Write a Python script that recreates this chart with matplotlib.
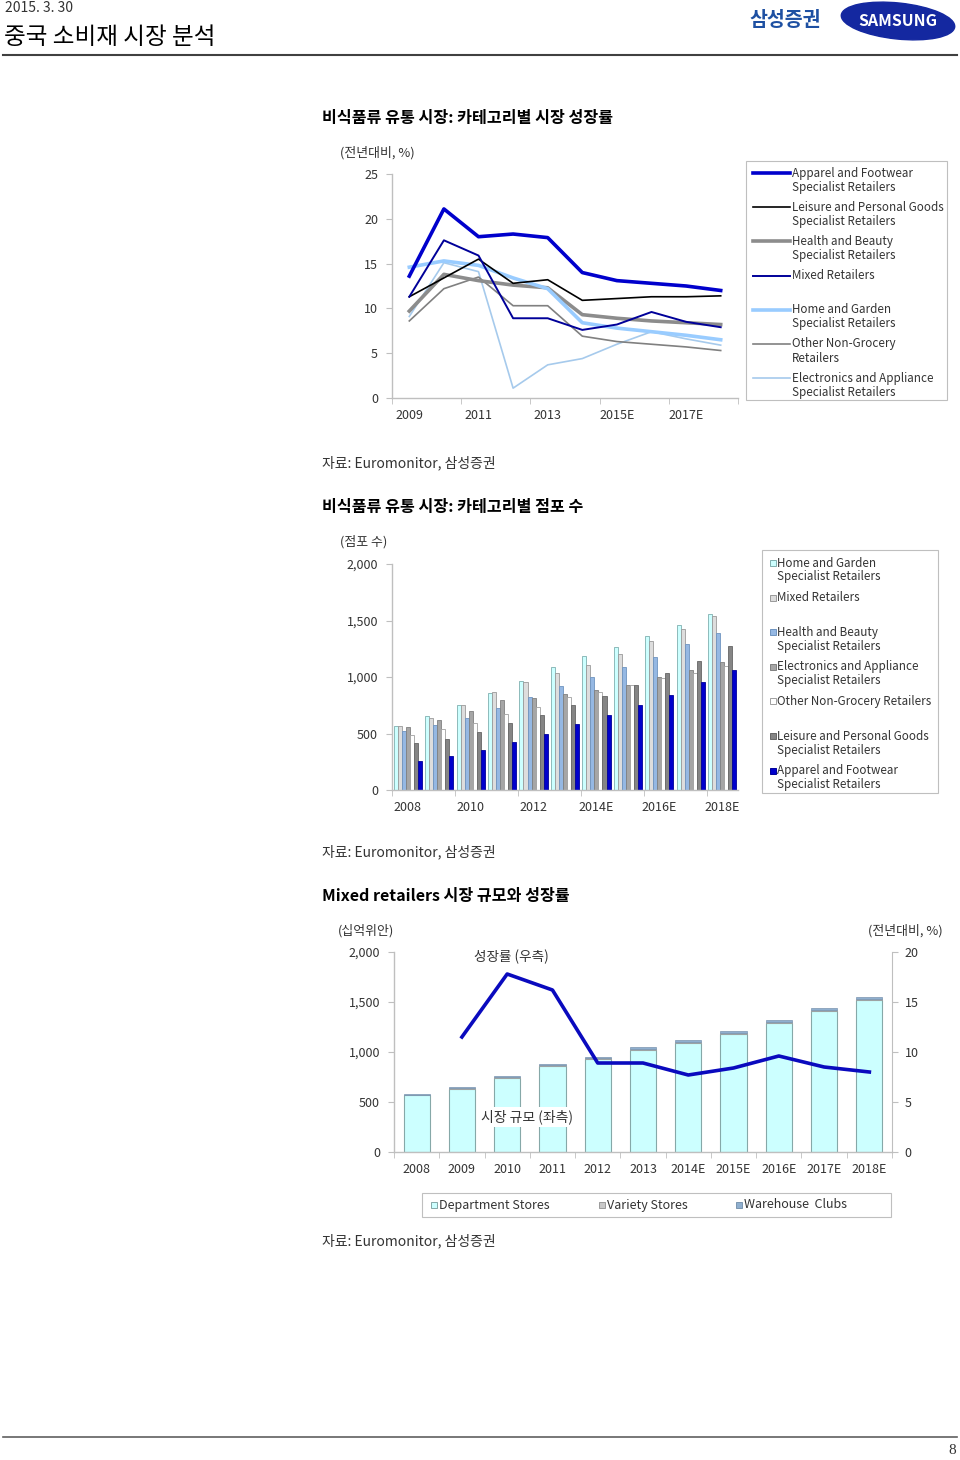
import matplotlib
matplotlib.use("Agg")
import matplotlib.pyplot as plt
import numpy as np
from matplotlib.patches import Ellipse, Rectangle
from matplotlib.ticker import FuncFormatter

plt.rcParams['font.family'] = ['Noto Sans CJK KR', 'DejaVu Sans']

W, H = 960, 1460

# ---- chart 1: growth by category (%)
years1 = ['2009', '2010', '2011', '2012', '2013', '2014E', '2015E', '2016E', '2017E', '2018E']
apparel_g = [13.6, 21.1, 18.0, 18.3, 17.9, 14.0, 13.1, 12.8, 12.5, 12.0]
leisure_g = [11.3, 13.4, 15.5, 12.8, 13.2, 10.9, 11.1, 11.3, 11.3, 11.4]
health_g = [9.7, 13.8, 13.1, 12.6, 12.3, 9.3, 8.9, 8.6, 8.4, 8.2]
mixed_g = [11.3, 17.6, 15.9, 8.9, 8.9, 7.6, 8.2, 9.6, 8.5, 7.9]
home_g = [14.6, 15.3, 14.8, 13.4, 12.2, 8.4, 7.8, 7.4, 7.0, 6.5]
other_g = [8.6, 12.2, 13.5, 10.3, 10.3, 6.9, 6.3, 6.0, 5.7, 5.3]
electro_g = [9.1, 15.1, 14.1, 1.1, 3.7, 4.4, 6.0, 7.4, 6.6, 5.9]

# ---- chart 2: number of stores
years2 = ['2008', '2009', '2010', '2011', '2012', '2013', '2014E', '2015E', '2016E', '2017E', '2018E']
home_s = [568, 656, 750, 859, 968, 1088, 1182, 1268, 1365, 1459, 1556]
mixed_s = [568, 641, 750, 871, 959, 1038, 1109, 1206, 1315, 1421, 1541]
health_s = [521, 571, 641, 726, 824, 918, 1003, 1085, 1179, 1288, 1385]
electro_s = [559, 618, 703, 800, 812, 847, 882, 929, 1000, 1062, 1132]
other_s = [488, 538, 594, 676, 738, 824, 871, 929, 991, 1038, 1100]
leisure_s = [415, 453, 509, 594, 668, 750, 835, 929, 1038, 1144, 1276]
apparel_s = [259, 297, 356, 426, 500, 582, 668, 750, 844, 956, 1062]

# ---- chart 3: mixed retailers market size and growth
dept_store = [569, 635, 740, 864, 929, 1025, 1093, 1184, 1289, 1407, 1517]
variety_store = [6, 6, 7, 7, 8, 8, 9, 9, 10, 10, 11]
warehouse_club = [8, 9, 10, 12, 13, 14, 15, 17, 18, 20, 22]
mixed_growth = [np.nan, 11.5, 17.8, 16.2, 8.9, 8.9, 7.7, 8.4, 9.6, 8.5, 8.0]

AXC = '#BFBFBF'
TXT = '#333333'


def px_axes(fig, left, top, right, bottom):
    return fig.add_axes([left / W, 1 - bottom / H, (right - left) / W, (bottom - top) / H])


def ftext(fig, x, y, s, **kw):
    kw.setdefault('va', 'center')
    return fig.text(x / W, 1 - y / H, s, **kw)


def style_axes(ax):
    for sp in ['top', 'right']:
        ax.spines[sp].set_visible(False)
    for sp in ax.spines.values():
        sp.set_color(AXC)
        sp.set_linewidth(1.0)
    ax.tick_params(axis='y', length=4, color=AXC, labelsize=9, labelcolor=TXT, pad=6)


def cat_ticks(ax, labels, step, n):
    ax.set_xlim(-0.5, n - 0.5)
    ax.set_xticks(range(0, n, step), labels[::step])
    ax.tick_params(axis='x', which='major', length=0, labelsize=9, labelcolor=TXT, pad=8)
    ax.set_xticks(np.arange(-0.5, n, step), minor=True)
    ax.tick_params(axis='x', which='minor', length=4, color=AXC)


def legend_box(fig, left, top, right, bottom):
    fig.add_artist(Rectangle((left / W, 1 - bottom / H), (right - left) / W, (bottom - top) / H,
                             transform=fig.transFigure, facecolor='white', edgecolor=AXC, lw=0.8))


def legend_text(fig, x, y, label, size=8.4, step=14):
    for i, line in enumerate(label.split('\n')):
        ftext(fig, x, y + i * step, line, fontsize=size, color=TXT)


def legend_line(fig, x0, x1, y, line):
    fig.add_artist(plt.Line2D([x0 / W, x1 / W], [1 - y / H, 1 - y / H], transform=fig.transFigure,
                              color=line.get_color(), lw=line.get_linewidth()))


def legend_patch(fig, xc, y, bar, s=6):
    p = bar.patches[0]
    fig.add_artist(Rectangle(((xc - s / 2) / W, 1 - (y + s / 2) / H), s / W, s / H,
                             transform=fig.transFigure, facecolor=p.get_facecolor(),
                             edgecolor=p.get_edgecolor(), lw=0.7))


fig = plt.figure(figsize=(W / 100, H / 100), dpi=100)

# header
ftext(fig, 5, 8, '2015. 3. 30', fontsize=10, color=TXT)
ftext(fig, 4, 38, '중국 소비재 시장 분석', fontsize=17, color='black')
fig.add_artist(plt.Line2D([3 / W, 957 / W], [1 - 55 / H, 1 - 55 / H], color='#404040', lw=1.5))
ftext(fig, 785, 20, '삼성증권', fontsize=14, color='#1E50A2', weight='bold', ha='center')
logo = fig.add_axes([840 / W, 1 - 42 / H, 116 / W, 42 / H])
logo.set_xlim(0, 116)
logo.set_ylim(0, 42)
logo.axis('off')
logo.add_patch(Ellipse((58, 21), 114, 36, angle=-6, color='#1428A0'))
logo.text(58, 21, 'SAMSUNG', color='white', fontsize=11.5, weight='bold', ha='center', va='center',
          style='italic')

# footer
fig.add_artist(plt.Line2D([3 / W, 957 / W], [1 - 1437 / H, 1 - 1437 / H], color='#606060', lw=1.2))
ftext(fig, 952, 1451, '8', fontsize=11, color=TXT, ha='center', family='Liberation Serif')

# ---------- chart 1
ftext(fig, 322, 118, '비식품류 유통 시장: 카테고리별 시장 성장률', fontsize=11.6, weight='bold')
ftext(fig, 340, 153, '(전년대비, %)', fontsize=9.3, color=TXT)
ax1 = px_axes(fig, 392, 174, 738, 398)
style_axes(ax1)
x1 = np.arange(len(years1))
l_app, = ax1.plot(x1, apparel_g, color='#0000CC', lw=2.6, zorder=10)
l_lei, = ax1.plot(x1, leisure_g, color='black', lw=1.2, zorder=7)
l_hea, = ax1.plot(x1, health_g, color='#8C8C8C', lw=2.6, zorder=5)
l_mix, = ax1.plot(x1, mixed_g, color='#000099', lw=1.4, zorder=8)
l_hom, = ax1.plot(x1, home_g, color='#99CCFF', lw=2.6, zorder=6)
l_oth, = ax1.plot(x1, other_g, color='#808080', lw=1.2, zorder=4)
l_ele, = ax1.plot(x1, electro_g, color='#A6CAEC', lw=1.2, zorder=3)
ax1.set_ylim(0, 25)
ax1.set_yticks(range(0, 26, 5))
cat_ticks(ax1, years1, 2, len(years1))

legend_box(fig, 746, 161, 947, 400)
leg1_items = [(l_app, 'Apparel and Footwear\nSpecialist Retailers'),
              (l_lei, 'Leisure and Personal Goods\nSpecialist Retailers'),
              (l_hea, 'Health and Beauty\nSpecialist Retailers'),
              (l_mix, 'Mixed Retailers'),
              (l_hom, 'Home and Garden\nSpecialist Retailers'),
              (l_oth, 'Other Non-Grocery\nRetailers'),
              (l_ele, 'Electronics and Appliance\nSpecialist Retailers')]
for i, (ln, lab) in enumerate(leg1_items):
    y = 173 + i * 34.2
    legend_line(fig, 753, 790, y, ln)
    legend_text(fig, 792, y, lab)
ftext(fig, 322, 463, '자료: Euromonitor, 삼성증권', fontsize=10, color=TXT)

# ---------- chart 2
ftext(fig, 322, 507, '비식품류 유통 시장: 카테고리별 점포 수', fontsize=11.6, weight='bold')
ftext(fig, 340, 542, '(점포 수)', fontsize=9.3, color=TXT)
ax2 = px_axes(fig, 392, 564, 738, 790)
style_axes(ax2)
x2 = np.arange(len(years2))
bw = 0.128
series2 = [
    (home_s, '#CCFFFF', '#7FAFAF', 'Home and Garden\nSpecialist Retailers'),
    (mixed_s, '#DDDDDD', '#9A9A9A', 'Mixed Retailers'),
    (health_s, '#95B8E3', '#6F94C0', 'Health and Beauty\nSpecialist Retailers'),
    (electro_s, '#A6A6A6', '#808080', 'Electronics and Appliance\nSpecialist Retailers'),
    (other_s, '#FFFFFF', '#A0A0A0', 'Other Non-Grocery Retailers'),
    (leisure_s, '#858585', '#666666', 'Leisure and Personal Goods\nSpecialist Retailers'),
    (apparel_s, '#0000CC', '#000099', 'Apparel and Footwear\nSpecialist Retailers'),
]
legend_box(fig, 762, 550, 938, 793)
for i, (vals, fc, ec, lab) in enumerate(series2):
    b = ax2.bar(x2 + (i - 3) * bw, vals, bw, color=fc, edgecolor=ec, linewidth=0.6)
    y = 563 + i * 34.6
    legend_patch(fig, 773, y, b)
    legend_text(fig, 777, y, lab)
ax2.set_ylim(0, 2000)
ax2.set_yticks(range(0, 2001, 500))
ax2.yaxis.set_major_formatter(FuncFormatter(lambda v, p: f'{v:,.0f}'))
cat_ticks(ax2, years2, 2, len(years2))
ftext(fig, 322, 852, '자료: Euromonitor, 삼성증권', fontsize=10, color=TXT)

# ---------- chart 3
ftext(fig, 322, 896, 'Mixed retailers 시장 규모와 성장률', fontsize=11.6, weight='bold')
ftext(fig, 338, 931, '(십억위안)', fontsize=9.3, color=TXT)
ftext(fig, 943, 931, '(전년대비, %)', fontsize=9.3, color=TXT, ha='right')
ax3 = px_axes(fig, 394, 952, 892, 1152)
style_axes(ax3)
x3 = np.arange(len(years2))
bw3 = 0.58
b_d = ax3.bar(x3, dept_store, bw3, color='#CCFFFF', edgecolor='#86A8A8', linewidth=0.8)
b_v = ax3.bar(x3, variety_store, bw3, bottom=dept_store, color='#C8C8C8', edgecolor='#9A9A9A',
              linewidth=0.5)
bottom_w = np.array(dept_store) + np.array(variety_store)
b_w = ax3.bar(x3, warehouse_club, bw3, bottom=bottom_w, color='#8FAFCF', edgecolor='#7A95B0',
              linewidth=0.5)
ax3.set_ylim(0, 2000)
ax3.set_yticks(range(0, 2001, 500))
ax3.yaxis.set_major_formatter(FuncFormatter(lambda v, p: f'{v:,.0f}'))
cat_ticks(ax3, years2, 1, len(years2))
ax3r = ax3.twinx()
for sp in ['top', 'left', 'bottom']:
    ax3r.spines[sp].set_visible(False)
ax3r.spines['right'].set_color(AXC)
ax3r.plot(x3, mixed_growth, color='#0A0ABE', lw=2.6)
ax3r.set_ylim(0, 20)
ax3r.set_yticks(range(0, 21, 5))
ax3r.tick_params(axis='y', length=4, color=AXC, labelsize=9, labelcolor=TXT, pad=5)
ftext(fig, 511, 957, '성장률 (우측)', fontsize=9.8, color=TXT, ha='center')
ftext(fig, 527, 1117, '시장 규모 (좌측)', fontsize=10, color=TXT, ha='center',
      bbox=dict(facecolor='white', edgecolor='none', pad=2))

legend_box(fig, 422, 1193, 891, 1217)
for xc, bar, lab in [(434, b_d, 'Department Stores'), (602, b_v, 'Variety Stores'),
                     (739, b_w, 'Warehouse  Clubs')]:
    legend_patch(fig, xc, 1205, bar)
    legend_text(fig, xc + 5, 1205, lab, size=9)
ftext(fig, 322, 1241, '자료: Euromonitor, 삼성증권', fontsize=10, color=TXT)

fig.savefig('out.png', dpi=100)
